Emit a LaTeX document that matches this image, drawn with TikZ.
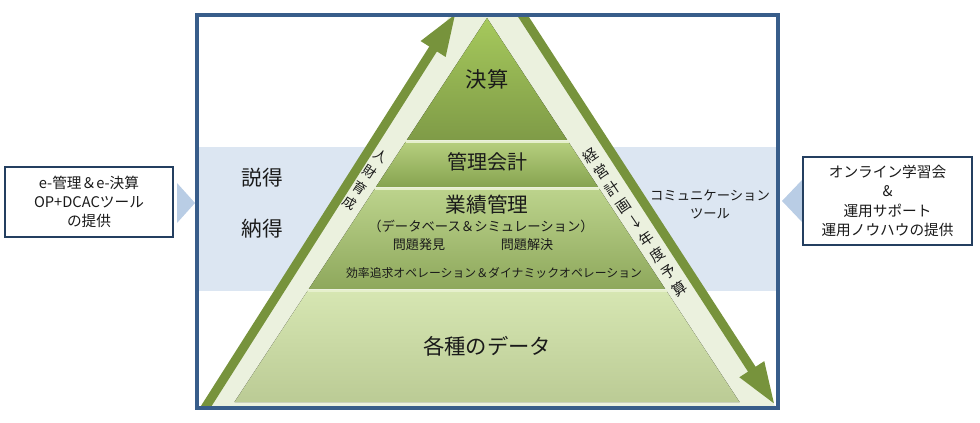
\documentclass[tikz,border=0pt]{standalone}
\usepackage{fontspec}
\setmainfont{Noto Sans CJK JP}
\usetikzlibrary{arrows.meta}
\definecolor{frameblue}{HTML}{385D8A}
\definecolor{boxnavy}{HTML}{243F60}
\definecolor{bandblue}{HTML}{DCE6F2}
\definecolor{pointblue}{HTML}{B9CDE5}
\definecolor{arrowgreen}{HTML}{77933C}
\definecolor{stripgreen}{HTML}{EBF1DE}
\definecolor{tierAtop}{HTML}{A6C95C}
\definecolor{tierAbot}{HTML}{7F9B47}
\definecolor{tierBtop}{HTML}{B6CF7E}
\definecolor{tierBbot}{HTML}{86A350}
\definecolor{tierCtop}{HTML}{BCD38C}
\definecolor{tierCbot}{HTML}{8EA85C}
\definecolor{tierDtop}{HTML}{D6E6B2}
\definecolor{tierDbot}{HTML}{BBCB95}
\definecolor{tierline}{HTML}{E6F0CC}
\definecolor{inktext}{HTML}{1A1A1A}
\begin{document}
\begin{tikzpicture}[x=0.75pt,y=-0.75pt]
        \tikzset{tiertext/.style = {text=inktext,inner sep=0pt}}
        \tikzset{infobox/.style = {draw=boxnavy,line width=1.6pt,fill=white,text=inktext,align=center,font=\fontsize{11}{14.5}\selectfont}}
        \tikzset{sidearrow/.style = {-{Triangle[width=20pt,length=32pt]},line width=6.8pt,arrowgreen}}
        \tikzset{sidetext/.style = {text=inktext,align=center,inner sep=0pt}}
        \useasboundingbox (0,0) rectangle (980,423);
        % band behind the pyramid
        \fill[bandblue] (197,147) rectangle (778,291);
        % strip and arrows along the sides
        \coordinate (lfoot) at (205,408);
        \coordinate (ltop) at (456,13);
        \coordinate (rtop) at (519,10);
        \coordinate (rfoot) at (775,405);
        \begin{scope}
        \clip (197,15) rectangle (778,408);
        \fill[stripgreen] (450,15) -- (524,15) -- (775,406) -- (206,406) -- cycle;
        \draw[sidearrow] (lfoot) -- (ltop);
        \draw[sidearrow] (rtop) -- (rfoot);
        \end{scope}
        % tiers of the pyramid
        \fill[top color=tierAtop,bottom color=tierAbot] (487,18) -- (567.2,140) -- (406.8,140) -- cycle;
        \fill[top color=tierBtop,bottom color=tierBbot] (405.5,142) -- (568.5,142) -- (598.1,187) -- (375.9,187) -- cycle;
        \fill[top color=tierCtop,bottom color=tierCbot] (374.6,189) -- (599.4,189) -- (665.2,289) -- (308.8,289) -- cycle;
        \fill[top color=tierDtop,bottom color=tierDbot] (307.5,291) -- (666.5,291) -- (739.5,402) -- (234.5,402) -- cycle;
        \draw[tierline,line width=1.2pt] (405.5,142) -- (568.5,142);
        \draw[tierline,line width=1.2pt] (374.6,189) -- (599.4,189);
        \draw[tierline,line width=1.2pt] (307.5,291) -- (666.5,291);
        % texts in the tiers
        \node[tiertext,font=\fontsize{16}{18}\selectfont] (kessan) at (487,79) {決算};
        \node[tiertext,font=\fontsize{15}{18}\selectfont] (kanri) at (487,162) {管理会計};
        \node[tiertext,font=\fontsize{15.5}{18}\selectfont] (gyoseki) at (487,205) {業績管理};
        \node[tiertext,font=\fontsize{10}{12}\selectfont] (dbsim) at (481,226) {（データベース＆シミュレーション）};
        \node[tiertext,font=\fontsize{9.8}{12}\selectfont] (hakken) at (419,245) {問題発見};
        \node[tiertext,font=\fontsize{9.8}{12}\selectfont] (kaiketsu) at (527,245) {問題解決};
        \node[tiertext,font=\fontsize{8.9}{12}\selectfont] (opera) at (494,273) {効率追求オペレーション＆ダイナミックオペレーション};
        \node[tiertext,font=\fontsize{16}{18}\selectfont] (data) at (487,346) {各種のデータ};
        % texts along the sides
        \node[sidetext,rotate=-33,font=\fontsize{10}{14}\selectfont] (jinzai) at (365,180) {人\\財\\育\\成};
        \node[sidetext,rotate=34,font=\fontsize{11}{15}\selectfont] (keikaku) at (635,222) {経\\営\\計\\画\\↓\\年\\度\\予\\算};
        % texts on the band
        \node[tiertext,font=\fontsize{15.5}{18}\selectfont] (settoku) at (262,178) {説得};
        \node[tiertext,font=\fontsize{15.5}{18}\selectfont] (nattoku) at (262,229) {納得};
        \node[sidetext,font=\fontsize{10}{13.5}\selectfont] (comm) at (710,204) {コミュニケーション\\ツール};
        % frame
        \draw[frameblue,line width=3pt] (197,15) rectangle (778,408);
        % pointers and boxes outside the frame
        \fill[pointblue] (177,183) -- (195,203) -- (177,223) -- cycle;
        \fill[pointblue] (802,180) -- (782,201) -- (802,222) -- cycle;
        \node[infobox,minimum width=126pt,minimum height=52.5pt] (tools) at (89,202) {e-管理＆e-決算\\OP+DCACツール\\の提供};
        \node[infobox,minimum width=126.75pt,minimum height=66pt] (support) at (887.5,201) {オンライン学習会\\\&\\運用サポート\\運用ノウハウの提供};
\end{tikzpicture}
\end{document}
